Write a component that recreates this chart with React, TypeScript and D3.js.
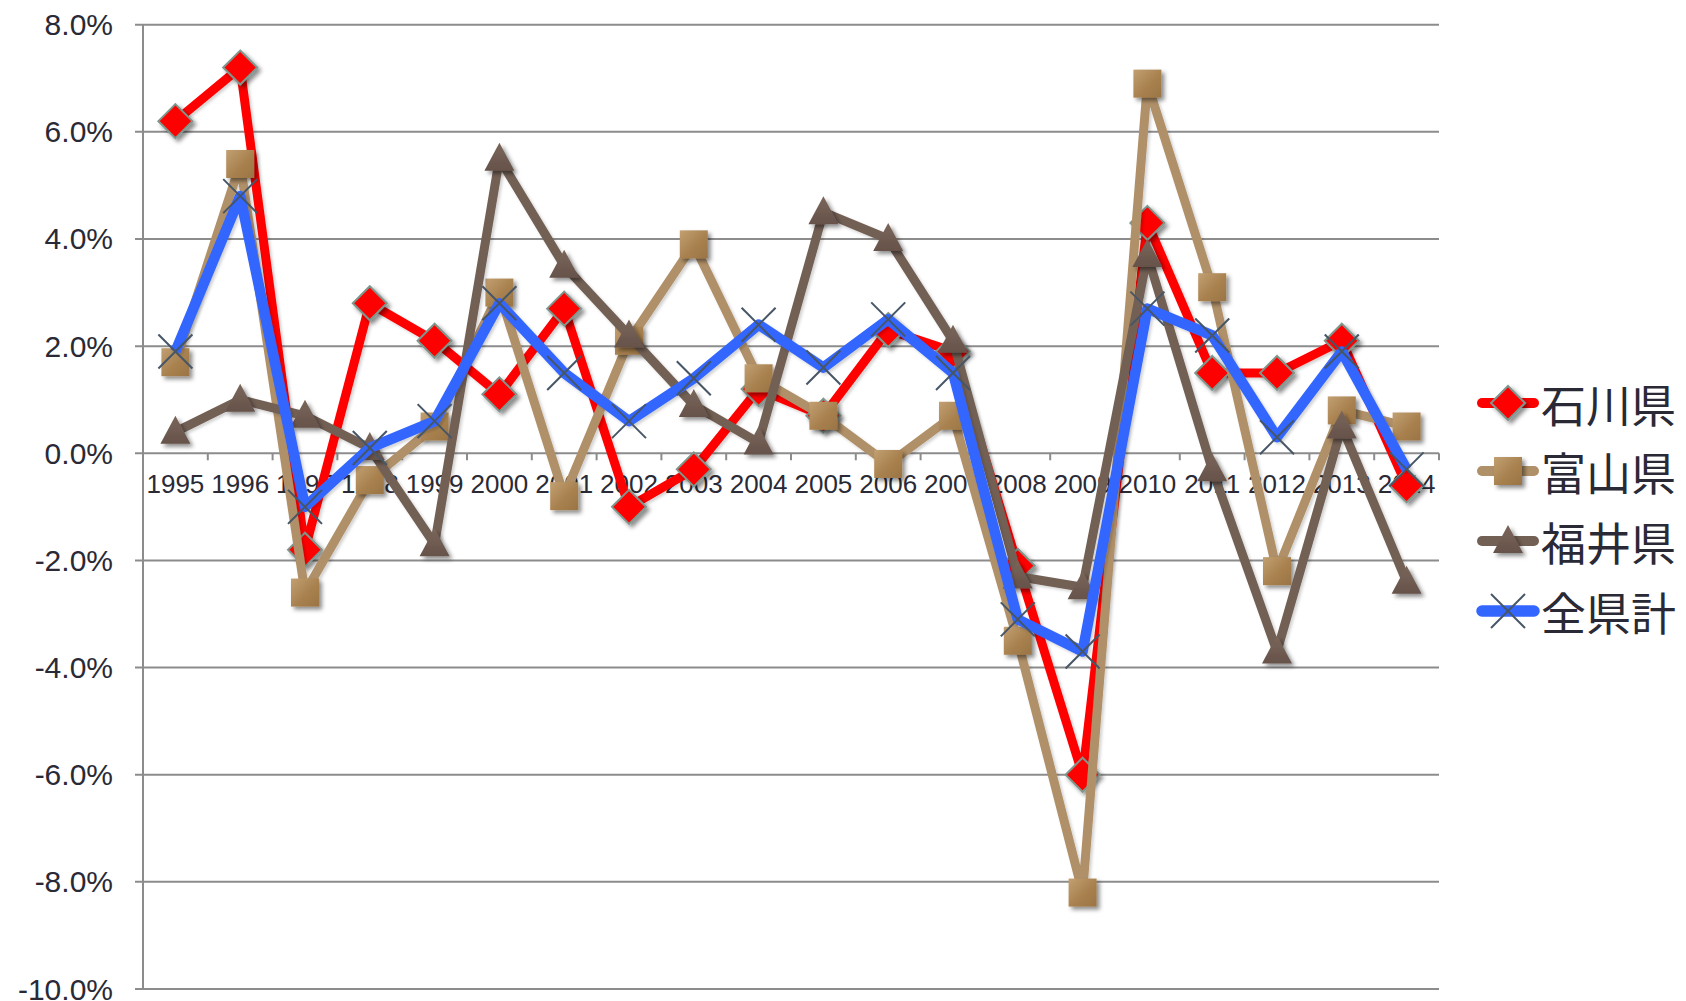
import React from "react";
import * as d3 from "d3";

// Year-over-year growth rate (%) by prefecture
const years = ["1995","1996","1997","1998","1999","2000","2001","2002","2003","2004","2005","2006","2007","2008","2009","2010","2011","2012","2013","2014"];
const ishikawa = [6.2, 7.2, -1.8, 2.8, 2.1, 1.1, 2.7, -1.0, -0.3, 1.2, 0.7, 2.3, 1.9, -2.1, -6.0, 4.3, 1.5, 1.5, 2.1, -0.6];
const toyama = [1.7, 5.4, -2.6, -0.5, 0.5, 3.0, -0.8, 2.1, 3.9, 1.4, 0.7, -0.2, 0.7, -3.5, -8.2, 6.9, 3.1, -2.2, 0.8, 0.5];
const fukui = [0.4, 1.0, 0.7, 0.1, -1.7, 5.5, 3.5, 2.2, 0.9, 0.2, 4.5, 4.0, 2.1, -2.3, -2.5, 3.7, -0.3, -3.7, 0.5, -2.4];
const allPref = [1.9, 4.8, -1.0, 0.1, 0.6, 2.8, 1.5, 0.6, 1.4, 2.4, 1.6, 2.5, 1.5, -3.1, -3.7, 2.7, 2.2, 0.3, 1.9, -0.3];
const yTicks = [8, 6, 4, 2, 0, -2, -4, -6, -8, -10];
const seriesNames = ["石川県", "富山県", "福井県", "全県計"];

type Marker = "diamond" | "square" | "triangle" | "cross";
interface Series { name: string; values: number[]; color: string; width: number; marker: Marker; }

const series: Series[] = [
  { name: seriesNames[0], values: ishikawa, color: "#ff0000", width: 9, marker: "diamond" },
  { name: seriesNames[1], values: toyama, color: "#b09068", width: 9, marker: "square" },
  { name: seriesNames[2], values: fukui, color: "#736055", width: 9, marker: "triangle" },
  { name: seriesNames[3], values: allPref, color: "#3366ff", width: 10.5, marker: "cross" },
];

const W = 1686;
const H = 1001;
const plotLeft = 143;
const plotRight = 1439;
const plotTop = 24.7;
const plotBottom = 989;

const x = d3.scaleBand<string>().domain(years).range([plotLeft, plotRight]).paddingInner(0).paddingOuter(0);
const y = d3.scaleLinear().domain([-10, 8]).range([plotBottom, plotTop]);

const textColor = "#2a2a36";
const gridColor = "#8c8c8c";
const latinFont = "'Liberation Sans', Arial, sans-serif";
const cjkFont = "'Noto Sans CJK JP', 'Noto Sans', sans-serif";

function MarkerShape({ kind, cx, cy }: { kind: Marker; cx: number; cy: number }) {
  if (kind === "diamond") {
    const r = 17;
    return (
      <path
        d={`M${cx},${cy - r}L${cx + r},${cy}L${cx},${cy + r}L${cx - r},${cy}Z`}
        fill="#ff0000"
        stroke="#7f968c"
        strokeWidth={2}
        filter="url(#shadow)"
      />
    );
  }
  if (kind === "square") {
    const s = 14;
    return (
      <rect x={cx - s} y={cy - s} width={2 * s} height={2 * s} fill="url(#tanGrad)" filter="url(#shadow)" />
    );
  }
  if (kind === "triangle") {
    const hw = 15;
    return (
      <path
        d={`M${cx},${cy - 16}L${cx + hw},${cy + 12}L${cx - hw},${cy + 12}Z`}
        fill="url(#brownGrad)"
        filter="url(#shadow)"
      />
    );
  }
  const r = 17;
  return (
    <g stroke="#465666" strokeWidth={2}>
      <line x1={cx - r} y1={cy - r} x2={cx + r} y2={cy + r} />
      <line x1={cx - r} y1={cy + r} x2={cx + r} y2={cy - r} />
    </g>
  );
}

export default function App() {
  const line = d3
    .line<number>()
    .x((_, i) => (x(years[i]) as number) + x.bandwidth() / 2)
    .y((d) => y(d));

  const boundaries = d3.range(years.length + 1).map((i) => plotLeft + i * x.bandwidth());
  const legendX = 1478;
  const legendY = [403, 471, 541, 611];

  return (
    <svg
      width={W}
      height={H}
      viewBox={`0 0 ${W} ${H}`}
      style={{ position: "absolute", left: 0, top: 0, background: "#ffffff" }}
    >
      <defs>
        <filter id="shadow" x="-50%" y="-50%" width="200%" height="200%">
          <feDropShadow dx={3} dy={3} stdDeviation={2} floodColor="#000" floodOpacity={0.45} />
        </filter>
        <filter id="lineShadow" x="-10%" y="-10%" width="120%" height="120%">
          <feDropShadow dx={2} dy={2} stdDeviation={1.5} floodColor="#000" floodOpacity={0.18} />
        </filter>
        <linearGradient id="tanGrad" x1="0" y1="0" x2="1" y2="1">
          <stop offset="0%" stopColor="#c2a072" />
          <stop offset="55%" stopColor="#a8814f" />
          <stop offset="100%" stopColor="#9a7444" />
        </linearGradient>
        <linearGradient id="brownGrad" x1="0" y1="0" x2="0" y2="1">
          <stop offset="0%" stopColor="#7a665a" />
          <stop offset="100%" stopColor="#66524a" />
        </linearGradient>
      </defs>

      <rect x={0} y={0} width={W} height={H} fill="#ffffff" />

      {/* horizontal gridlines and y ticks */}
      {yTicks.map((t) => (
        <g key={t}>
          <line x1={plotLeft - 8} x2={plotRight} y1={y(t)} y2={y(t)} stroke={gridColor} strokeWidth={2} />
          <text
            x={113}
            y={y(t)}
            textAnchor="end"
            dominantBaseline="central"
            fontFamily={latinFont}
            fontSize={30}
            fill={textColor}
          >
            {`${t.toFixed(1)}%`}
          </text>
        </g>
      ))}

      {/* vertical axis */}
      <line x1={plotLeft} x2={plotLeft} y1={plotTop} y2={plotBottom} stroke={gridColor} strokeWidth={2} />

      {/* category ticks on the zero line */}
      {boundaries.map((bx, i) => (
        <line key={i} x1={bx} x2={bx} y1={y(0)} y2={y(0) + 7} stroke={gridColor} strokeWidth={2} />
      ))}

      {/* category labels */}
      {years.map((yr) => (
        <text
          key={yr}
          x={(x(yr) as number) + x.bandwidth() / 2}
          y={y(0) + 31}
          textAnchor="middle"
          dominantBaseline="central"
          fontFamily={latinFont}
          fontSize={26}
          fill={textColor}
        >
          {yr}
        </text>
      ))}

      {/* series */}
      {series.map((s) => (
        <g key={s.name}>
          <path
            d={line(s.values) || ""}
            fill="none"
            stroke={s.color}
            strokeWidth={s.width}
            strokeLinejoin="round"
            filter="url(#lineShadow)"
          />
          {s.values.map((v, i) => (
            <MarkerShape
              key={i}
              kind={s.marker}
              cx={(x(years[i]) as number) + x.bandwidth() / 2}
              cy={y(v)}
            />
          ))}
        </g>
      ))}

      {/* legend */}
      {series.map((s, i) => (
        <g key={s.name}>
          <line
            x1={legendX + 4}
            x2={legendX + 56}
            y1={legendY[i]}
            y2={legendY[i]}
            stroke={s.color}
            strokeWidth={s.width + 1}
            strokeLinecap="round"
          />
          <MarkerShape kind={s.marker} cx={legendX + 30} cy={legendY[i]} />
          <text
            x={legendX + 63}
            y={legendY[i]}
            dominantBaseline="central"
            fontFamily={cjkFont}
            fontSize={45}
            fill={textColor}
          >
            {s.name}
          </text>
        </g>
      ))}
    </svg>
  );
}
